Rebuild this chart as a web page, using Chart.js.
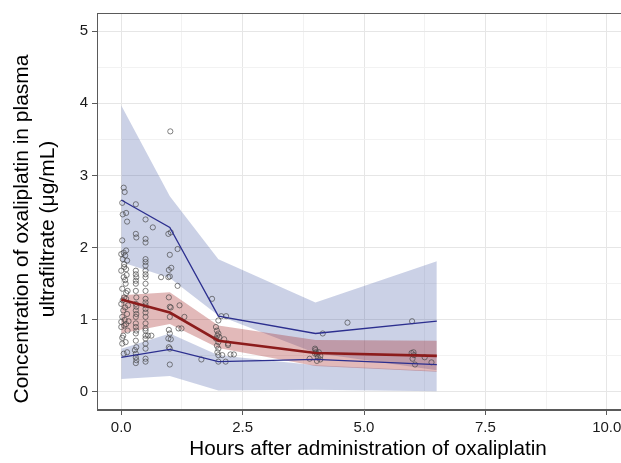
<!DOCTYPE html>
<html>
<head>
<meta charset="utf-8">
<script src="https://cdn.jsdelivr.net/npm/chart.js@4.4.1/dist/chart.umd.min.js"></script>
<style>
  html, body { margin: 0; padding: 0; background: #ffffff; overflow: hidden; width: 621px; height: 463px; }
  canvas { display: block; }
</style>
</head>
<body>
<canvas id="c" width="640" height="463"></canvas>
<script>
// ---- Data ----
const xTitle = "Hours after administration of oxaliplatin";
const yTitle = ["Concentration of oxaliplatin in plasma", "ultrafiltrate (\u03bcg/mL)"];

const xMajorTicks = [0, 2.5, 5, 7.5, 10];
const xMinorTicks = [1.25, 3.75, 6.25, 8.75];
const yMajorTicks = [0, 1, 2, 3, 4, 5];
const yMinorTicks = [0.5, 1.5, 2.5, 3.5, 4.5];

// binned times for prediction intervals and observed percentiles
const binTimes = [0, 1, 2, 4, 6.5];
// CI of simulated 95th percentile
const p95Upper = [3.97, 2.71, 1.84, 1.24, 1.81];
const p95Lower = [1.80, 1.58, 1.06, 0.54, 0.30];
// CI of simulated median
const medUpper = [1.34, 1.38, 0.92, 0.72, 0.71];
const medLower = [0.81, 0.94, 0.61, 0.36, 0.28];
// CI of simulated 5th percentile
const p5Upper = [0.60, 0.81, 0.51, 0.37, 0.29];
const p5Lower = [0.18, 0.22, 0.02, 0.03, 0.01];
// observed percentiles
const obsP95 = [2.66, 2.28, 1.05, 0.81, 0.98];
const obsMedian = [1.28, 1.10, 0.71, 0.54, 0.50];
const obsP5 = [0.48, 0.59, 0.42, 0.45, 0.38];

// observed concentrations
const obsTime = [
  0.05,0.07,0.02,0.10,0.03,0.12,0.02,0.10,0.05,0.00,0.08,0.03,0.12,0.06,0.10,0.00,0.05,0.09,0.02,0.13,
  0.06,0.10,0.00,0.08,0.04,0.12,0.02,0.10,0.06,0.00,0.13,0.04,0.09,0.02,0.12,0.05,0.08,0.11,0.03,0.07,
  0.15,0.02,0.10,0.06,0.14,0.00,
  0.30,0.30,0.31,0.30,0.30,0.31,0.30,0.30,0.31,0.30,0.30,0.31,0.30,0.30,0.31,0.30,0.30,0.31,0.30,0.30,
  0.31,0.30,0.30,0.31,0.30,0.28,
  0.50,0.50,0.50,0.50,0.50,0.50,0.50,0.50,0.50,0.50,0.50,0.50,0.50,0.50,0.50,0.50,0.50,0.50,0.50,0.50,
  0.50,0.50,0.50,0.50,0.50,0.50,
  0.65,0.62,0.55,0.82,
  0.97,1.02,1.00,0.98,1.03,0.97,1.00,0.98,1.00,1.02,1.00,0.98,1.00,0.97,1.02,0.98,1.00,1.00,1.01,
  1.16,1.16,1.20,1.18,1.30,1.24,
  1.87,2.00,1.95,1.97,2.00,1.98,2.02,1.95,2.00,1.97,2.00,1.98,2.00,2.00,2.06,2.16,2.12,2.20,2.25,2.15,
  2.08,2.32,2.20,1.65,
  3.88,3.99,4.01,4.03,4.07,4.05,4.10,4.03,3.99,4.15,4.66,4.00,4.10,
  5.99,5.98,6.02,6.03,6.00,6.05,6.25,6.39
];
const obsConc = [
  2.83,2.77,2.62,2.48,2.46,2.36,2.10,1.96,1.93,1.91,1.89,1.84,1.82,1.77,1.70,1.68,1.59,1.50,1.43,1.40,
  1.31,1.29,1.22,1.17,1.13,1.08,1.04,0.94,0.92,0.90,0.85,0.78,0.69,0.67,0.55,0.53,1.55,1.62,1.27,1.00,
  0.98,0.75,1.37,1.73,1.20,0.97,
  2.60,2.19,2.14,1.68,1.63,1.59,1.54,1.50,1.31,1.22,1.13,1.08,1.04,0.90,0.85,0.81,0.71,0.62,0.53,0.48,
  0.44,0.40,1.40,1.18,0.95,0.58,
  2.39,2.12,2.07,1.84,1.80,1.75,1.68,1.59,1.50,1.40,1.29,1.24,1.20,1.15,1.04,0.88,0.85,0.78,0.74,0.67,
  0.60,0.46,0.42,1.10,0.95,1.63,
  2.28,0.78,0.78,1.59,
  2.19,2.21,1.90,1.69,1.72,1.59,1.60,1.31,1.18,1.17,1.04,0.86,0.81,0.74,0.73,0.62,0.60,0.38,3.61,
  1.98,1.47,1.20,0.88,1.04,0.88,
  1.29,0.99,0.90,0.85,0.81,0.78,0.76,0.74,0.69,0.64,0.60,0.55,0.51,0.42,1.05,1.05,0.73,0.67,0.52,0.42,
  0.51,0.52,0.65,0.45,
  0.46,0.60,0.55,0.52,0.55,0.48,0.45,0.43,0.53,0.81,0.96,0.58,0.50,
  0.98,0.54,0.55,0.51,0.46,0.38,0.48,0.41
];

// ---- Helpers ----
const pts = (xs, ys) => xs.map((x, i) => ({ x: x, y: ys[i] }));
const isIn = (arr, v) => arr.some(a => Math.abs(a - v) < 1e-9);

const blueFill = 'rgba(48,72,155,0.25)';
const redFill = 'rgba(165,38,38,0.32)';
const blueLine = '#2c2f8f';
const redLine = '#8c1c1c';
const FONT = "'Liberation Sans', Arial, sans-serif";

const bandDs = (data, fill, color, order) => ({
  type: 'line', data: data, fill: fill, backgroundColor: color,
  borderWidth: 0, borderColor: 'rgba(0,0,0,0)', pointRadius: 0, tension: 0, order: order
});
const lineDs = (data, color, width, order) => ({
  type: 'line', data: data, fill: false, borderColor: color, borderWidth: width,
  pointRadius: 0, tension: 0, order: order
});

const panelBorder = {
  id: 'panelBorder',
  afterDatasetsDraw(chart) {
    const { ctx, chartArea: a } = chart;
    ctx.save();
    ctx.strokeStyle = '#5a5a5a';
    ctx.lineWidth = 1;
    ctx.strokeRect(a.left + 0.5, a.top + 0.5, a.right - a.left - 1, a.bottom - a.top - 1);
    ctx.restore();
  }
};

// axis titles, placed like the reference (ggplot-style)
const axisTitles = {
  id: 'axisTitles',
  afterDraw(chart) {
    const { ctx, chartArea: a } = chart;
    ctx.save();
    ctx.fillStyle = '#000';
    // x title
    ctx.font = "20.7px " + FONT;
    ctx.textAlign = 'center';
    ctx.textBaseline = 'alphabetic';
    ctx.fillText(xTitle, 368, 455);
    // y title (two lines, rotated)
    ctx.font = "21px " + FONT;
    ctx.textBaseline = 'middle';
    const cy = 229;
    const xs = [22, 48.5];
    yTitle.forEach((line, i) => {
      ctx.save();
      ctx.translate(xs[i], cy);
      ctx.rotate(-Math.PI / 2);
      ctx.fillText(line, 0, 0);
      ctx.restore();
    });
    ctx.restore();
  }
};

new Chart(document.getElementById('c'), {
  type: 'scatter',
  data: {
    datasets: [
      bandDs(pts(binTimes, p95Upper), '+1', blueFill, 20),
      bandDs(pts(binTimes, p95Lower), false, 'rgba(0,0,0,0)', 19),
      bandDs(pts(binTimes, p5Upper), '+1', blueFill, 18),
      bandDs(pts(binTimes, p5Lower), false, 'rgba(0,0,0,0)', 17),
      bandDs(pts(binTimes, medUpper), '+1', redFill, 16),
      bandDs(pts(binTimes, medLower), false, 'rgba(0,0,0,0)', 15),
      {
        type: 'scatter', data: pts(obsTime, obsConc), order: 10,
        pointRadius: 2.6, pointBorderWidth: 0.8, pointBorderColor: 'rgba(70,70,70,0.85)',
        pointBackgroundColor: 'rgba(0,0,0,0)', pointHoverRadius: 2.6
      },
      lineDs(pts(binTimes, obsP95), blueLine, 1.3, 3),
      lineDs(pts(binTimes, obsP5), blueLine, 1.3, 2),
      lineDs(pts(binTimes, obsMedian), redLine, 2.6, 1)
    ]
  },
  options: {
    responsive: false,
    animation: false,
    devicePixelRatio: 1,
    layout: { padding: { left: 0, right: 9, top: 11, bottom: 0 } },
    plugins: { legend: { display: false }, tooltip: { enabled: false } },
    scales: {
      x: {
        type: 'linear', min: -0.5, max: 10.5,
        afterBuildTicks: s => { s.ticks = xMajorTicks.concat(xMinorTicks).sort((a, b) => a - b).map(v => ({ value: v })); },
        afterFit: s => { s.height = 53; },
        border: { display: true, color: '#5a5a5a', width: 1 },
        grid: {
          color: c => isIn(xMajorTicks, c.tick.value) ? '#e6e6e6' : '#f2f2f2',
          lineWidth: 1,
          tickLength: 5,
          tickWidth: 1,
          tickColor: c => isIn(xMajorTicks, c.tick.value) ? '#5a5a5a' : 'rgba(0,0,0,0)'
        },
        ticks: {
          autoSkip: false, maxRotation: 0, padding: 4,
          color: '#1a1a1a', font: { family: FONT, size: 15 },
          callback: v => isIn(xMajorTicks, v) ? Number(v).toFixed(1) : ''
        },
        title: { display: false, text: xTitle }
      },
      y: {
        type: 'linear', min: -0.25, max: 5.25,
        afterBuildTicks: s => { s.ticks = yMajorTicks.concat(yMinorTicks).sort((a, b) => a - b).map(v => ({ value: v })); },
        afterFit: s => { s.width = 97; },
        border: { display: true, color: '#5a5a5a', width: 1 },
        grid: {
          color: c => isIn(yMajorTicks, c.tick.value) ? '#e6e6e6' : '#f2f2f2',
          lineWidth: 1,
          tickLength: 5,
          tickWidth: 1,
          tickColor: c => isIn(yMajorTicks, c.tick.value) ? '#5a5a5a' : 'rgba(0,0,0,0)'
        },
        ticks: {
          autoSkip: false, padding: 4,
          color: '#1a1a1a', font: { family: FONT, size: 15 },
          callback: v => isIn(yMajorTicks, v) ? String(v) : ''
        },
        title: { display: false, text: yTitle }
      }
    }
  },
  plugins: [panelBorder, axisTitles]
});
</script>
</body>
</html>
